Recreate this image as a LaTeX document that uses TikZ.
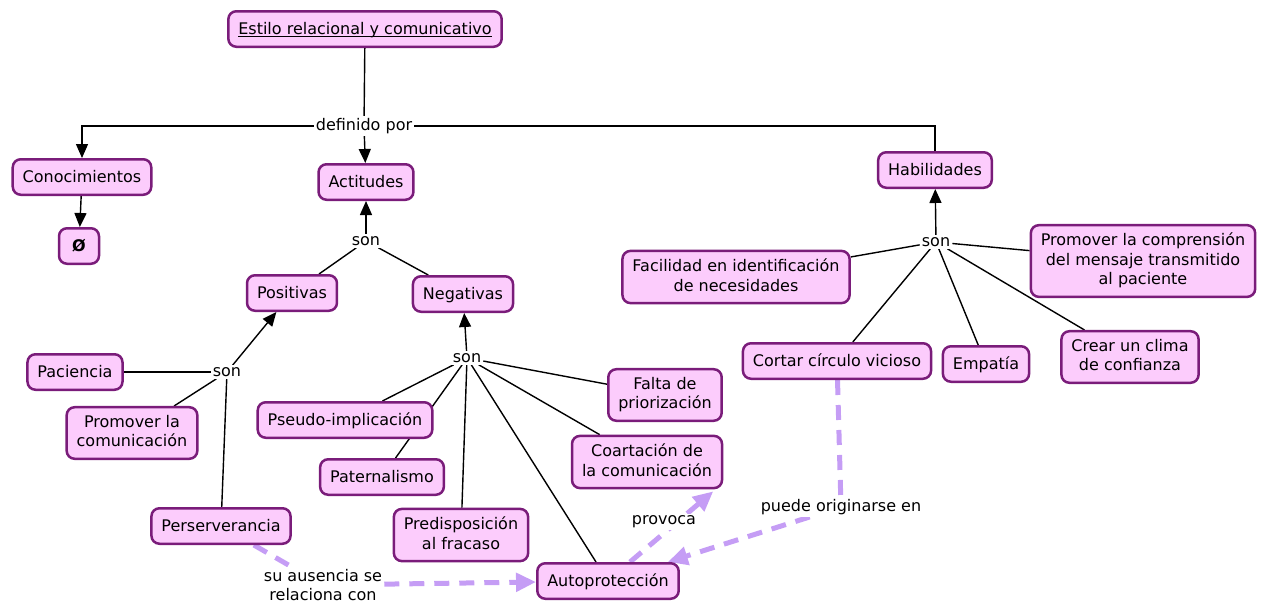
\documentclass[tikz,border=0pt]{standalone}
\usepackage{fontspec}
\setmainfont{DejaVu Sans}
\usetikzlibrary{arrows.meta,backgrounds}

\definecolor{conceptfill}{HTML}{FCCCFC}
\definecolor{conceptline}{HTML}{7A1C7A}
\definecolor{linkviolet}{HTML}{C59DF5}

% underline sitting just under the baseline
\newcommand{\titleline}[1]{\setbox0\hbox{#1}\rlap{\rule[-2.4pt]{\wd0}{1.1pt}}\box0}
% strut that centres capitals in a box
\newcommand{\capstrut}{\rule[-3.9pt]{0pt}{19.5pt}}

\begin{document}
\begin{tikzpicture}[x=1pt,y=-1pt,
  font=\fontsize{16}{19.5}\selectfont,
  concept/.style={draw=conceptline, fill=conceptfill, line width=2.5pt,
    rounded corners=8pt, inner xsep=10pt, inner ysep=8pt, align=center,
    execute at begin node=\capstrut, execute at end node=\capstrut},
  linkword/.style={fill=white, inner sep=2pt, align=center},
  tie/.style={draw=black, line width=1.4pt},
  tiearrow/.style={tie, -{Triangle[length=14pt,width=12pt]}},
  crosslink/.style={draw=linkviolet, line width=5pt, dash pattern=on 15pt off 10pt},
  crossarrow/.style={crosslink, -{Triangle[length=20pt,width=18pt]}},
]
\useasboundingbox (0,0) rectangle (1264,603);

% concepts
\node[concept] (title) at (365,29) {\titleline{Estilo relacional y comunicativo}};
\node[concept] (con) at (82,177) {Conocimientos};
\node[concept, minimum width=40pt] (none) at (79,246) {\textbf{Ø}};
\node[concept] (act) at (366,182) {Actitudes};
\node[concept] (hab) at (935,170) {Habilidades};
\node[concept] (pos) at (292,293) {Positivas};
\node[concept] (neg) at (463,294) {Negativas};
\node[concept] (pac) at (75,372) {Paciencia};
\node[concept] (promc) at (132,433) {Promover la\\comunicación};
\node[concept] (pers) at (221,526) {Perserverancia};
\node[concept] (pseudo) at (345,420) {Pseudo-implicación};
\node[concept] (pater) at (382,477) {Paternalismo};
\node[concept] (predis) at (461,535) {Predisposición\\al fracaso};
\node[concept] (falta) at (665,395) {Falta de\\priorización};
\node[concept] (coart) at (647,462) {Coartación de\\la comunicación};
\node[concept] (auto) at (608,581) {Autoprotección};
\node[concept] (facil) at (736,277) {Facilidad en identificación\\de necesidades};
\node[concept] (promcomp) at (1143,261) {Promover la comprensión\\del mensaje transmitido\\al paciente};
\node[concept] (cortar) at (837,361) {Cortar círculo vicioso};
\node[concept] (empat) at (986,364) {Empatía};
\node[concept] (crear) at (1130,357) {Crear un clima\\de confianza};

% linking phrases
\node[linkword] (def) at (364,126) {definido por};
\node[linkword] (sonA) at (366,241) {son};
\node[linkword] (sonP) at (227,372) {son};
\node[linkword] (sonN) at (467,358) {son};
\node[linkword] (sonH) at (936,242) {son};
\node[linkword] (aus) at (323,585) {su ausencia se\\relaciona con};
\node[linkword] (prov) at (664,522) {provoca};
\node[linkword] (orig) at (841,507) {puede originarse en};

\begin{pgfonlayer}{background}
  % hierarchy
  \draw[tie] (title) -- (def);
  \draw[tiearrow] (def) -- (act);
  \draw[tiearrow] (def.west) -| (con);
  \draw[tie] (def.east) -| (hab);
  \draw[tiearrow] (con) -- (none);

  \draw[tie] (pos) -- (sonA);
  \draw[tie] (neg) -- (sonA);
  \draw[tiearrow] (sonA) -- (act);

  \draw[tie] (pac) -- (sonP);
  \draw[tie] (promc) -- (sonP);
  \draw[tie] (pers) -- (sonP);
  \draw[tiearrow] (sonP) -- (pos);

  \draw[tiearrow] (sonN) -- (neg);
  \draw[tie] (sonN) -- (pseudo);
  \draw[tie] (sonN) -- (pater);
  \draw[tie] (sonN) -- (predis);
  \draw[tie] (sonN) -- (auto);
  \draw[tie] (sonN) -- (coart);
  \draw[tie] (sonN) -- (falta);

  \draw[tiearrow] (sonH) -- (hab);
  \draw[tie] (sonH) -- (facil);
  \draw[tie] (sonH) -- (promcomp);
  \draw[tie] (sonH) -- (cortar);
  \draw[tie] (sonH) -- (empat);
  \draw[tie] (sonH) -- (crear);

  % cross links
  \draw[crosslink] (pers) -- (aus);
  \draw[crossarrow] (aus) -- (auto);
  \draw[crossarrow] ([xshift=22pt]auto.north) -- ([xshift=-10pt,yshift=-2pt]coart.south east);
  \draw[crosslink] (cortar) -- (orig);
  \draw[crossarrow] (orig) -- (auto);
\end{pgfonlayer}
\end{tikzpicture}
\end{document}
